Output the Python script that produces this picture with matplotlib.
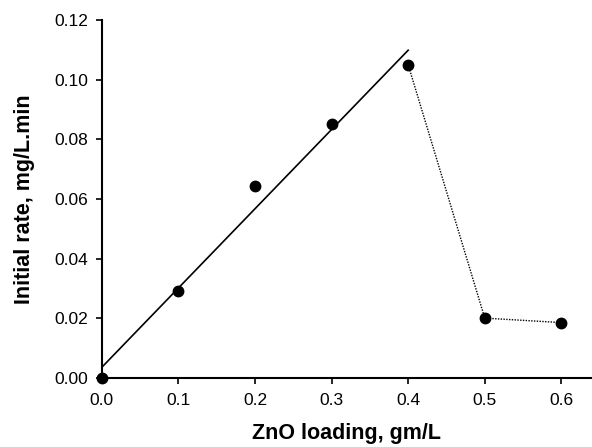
import numpy as np
import matplotlib.pyplot as plt

plt.rcParams['font.family'] = ['Liberation Sans', 'DejaVu Sans']

# ZnO loading (g/L) vs initial rate (mg/L.min)
loading = [0.0, 0.1, 0.2, 0.3, 0.4, 0.5, 0.6]
rate = [0.0, 0.029, 0.0645, 0.085, 0.105, 0.020, 0.0185]
xticks = [0.0, 0.1, 0.2, 0.3, 0.4, 0.5, 0.6]
yticks = [0.00, 0.02, 0.04, 0.06, 0.08, 0.10, 0.12]

fig = plt.figure(figsize=(5.92, 4.47), dpi=100)
ax = fig.add_axes([0.172, 0.155, 0.828, 0.8])

# linear fit over the first five points
k, b = np.polyfit(loading[:5], rate[:5], 1)
xf = np.array([loading[0], loading[4]])
ax.plot(xf, k * xf + b, color='black', lw=1.2)

# dotted line over the decline
ax.plot(loading[4:], rate[4:], color='black', lw=1, ls=(0, (1, 1)))

ax.plot(loading, rate, 'o', color='black', ms=7.5, clip_on=False, zorder=5)

ax.set_xlim(0, 0.64)
ax.set_ylim(0, 0.12)
ax.set_xticks(xticks)
ax.set_yticks(yticks)
ax.set_xticklabels(['%.1f' % v for v in xticks])
ax.set_yticklabels(['%.2f' % v for v in yticks])
ax.tick_params(direction='out', length=4, width=1.2, labelsize=12.5, pad=6)
ax.tick_params(axis='x', pad=7)

ax.spines['top'].set_visible(False)
ax.spines['right'].set_visible(False)
ax.spines['left'].set_linewidth(1.5)
ax.spines['bottom'].set_linewidth(1.5)

ax.set_xlabel('ZnO loading, gm/L', fontsize=15.5, fontweight='bold', labelpad=11)
ax.set_ylabel('Initial rate, mg/L.min', fontsize=15.5, fontweight='bold', labelpad=14)

fig.savefig('out.png', dpi=100)
